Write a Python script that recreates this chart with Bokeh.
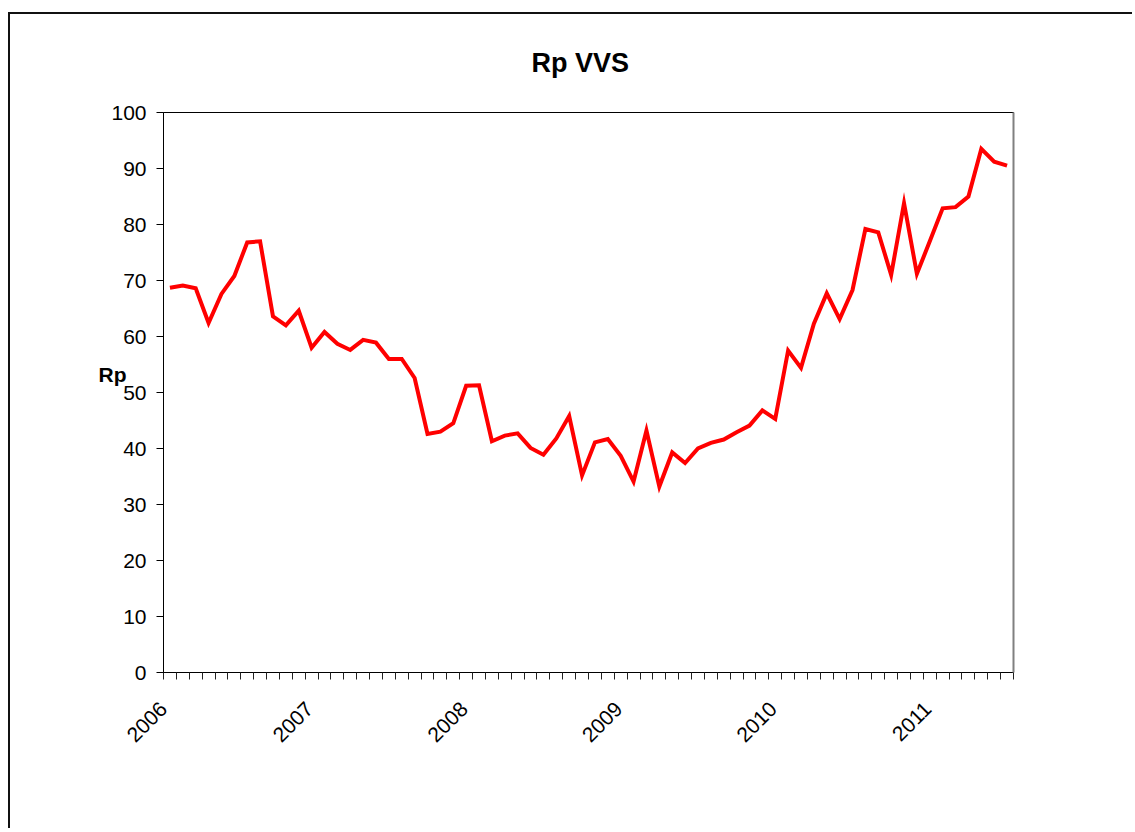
from bokeh.plotting import figure
from bokeh.models import Range1d, FixedTicker, LinearAxis, ColumnDataSource
from bokeh.embed import file_html
from bokeh.resources import INLINE

# ---- data ----
years = ["2006", "2007", "2008", "2009", "2010", "2011"]
year_start_index = [0, 12, 24, 36, 48, 60]
rp_values = [
    68.7, 69.1, 68.6, 62.4, 67.6, 70.8, 76.8, 77.0, 63.6, 62.0, 64.6, 58.0,
    60.8, 58.7, 57.6, 59.4, 58.9, 56.0, 56.0, 52.6, 42.6, 43.0, 44.5, 51.2,
    51.3, 41.3, 42.3, 42.7, 40.1, 38.9, 41.8, 45.8, 35.2, 41.1, 41.7, 38.7,
    34.1, 43.2, 33.2, 39.3, 37.4, 40.0, 41.0, 41.6, 42.9, 44.1, 46.8, 45.3,
    57.5, 54.4, 62.3, 67.7, 63.1, 68.3, 79.2, 78.6, 71.0, 83.8, 71.2, 77.0,
    82.9, 83.1, 85.0, 93.5, 91.2, 90.5,
]
y_ticks = [0, 10, 20, 30, 40, 50, 60, 70, 80, 90, 100]

n = len(rp_values)
month_index = list(range(n))
source = ColumnDataSource(data=dict(x=month_index, y=rp_values))

FONT = "Liberation Sans"
LABEL_SHIFT = 1.15  # rotated year labels end slightly left of the year's first month
x_start, x_end = -0.5, n - 0.5

p = figure(
    width=1124, height=816,
    x_range=Range1d(x_start, x_end), y_range=Range1d(0, 100),
    output_backend="svg", toolbar_location=None,
    min_border_left=153, min_border_right=121,
    min_border_top=98, min_border_bottom=158,
    title="Rp VVS",
)
p.margin = (12, 0, 0, 8)
p.styles = {"border-left": "2px solid #111", "border-top": "2px solid #111"}

p.outline_line_color = "black"
p.outline_line_width = 1
p.grid.visible = False
p.background_fill_color = "white"
p.border_fill_color = "white"

# title
p.title.align = "left"
p.title.offset = 368
p.title.vertical_align = "top"
p.title.text_font = FONT
p.title.text_font_size = "27px"
p.title.text_font_style = "bold"
p.title.text_color = "black"
if "standoff" in p.title.properties():
    p.title.standoff = 65

# x axis: line, month tick marks, rotated year labels
label_ticks = [max(i - LABEL_SHIFT, x_start) for i in year_start_index]
xa = p.xaxis[0]
xa.ticker = FixedTicker(ticks=label_ticks,
                        minor_ticks=[i - 0.5 for i in range(n + 1)])
xa.major_label_overrides = {t: y for t, y in zip(label_ticks, years)}
xa.major_label_orientation = 0.785398
xa.major_tick_out = 0
xa.major_tick_in = 0
xa.minor_tick_out = 7
xa.minor_tick_in = 0
xa.minor_tick_line_color = "#222"
xa.axis_line_color = "black"
xa.major_label_text_font = FONT
xa.major_label_text_font_size = "21px"
xa.major_label_text_color = "black"
xa.major_label_standoff = 26

# y axis
ya = p.yaxis[0]
ya.ticker = FixedTicker(ticks=y_ticks)
ya.major_tick_out = 7
ya.major_tick_in = 0
ya.minor_tick_out = 0
ya.minor_tick_in = 0
ya.axis_line_color = "black"
ya.major_tick_line_color = "black"
ya.major_label_text_font = FONT
ya.major_label_text_font_size = "21px"
ya.major_label_text_color = "black"
ya.major_label_standoff = 10

# y axis title "Rp" (horizontal; the empty second line lifts it a little above centre)
rp_ax = LinearAxis(ticker=FixedTicker(ticks=[]),
                   axis_line_color=None,
                   major_tick_out=0, major_tick_in=0, minor_tick_out=0, minor_tick_in=0,
                   axis_label="Rp\n", axis_label_orientation="horizontal",
                   axis_label_text_font=FONT, axis_label_text_font_size="21px",
                   axis_label_text_font_style="bold", axis_label_text_color="black",
                   axis_label_text_line_height=1.6,
                   axis_label_standoff=-18)
p.add_layout(rp_ax, "left")

# frame right border (gray)
right_ax = LinearAxis(ticker=FixedTicker(ticks=[]), axis_line_color="#808080",
                      axis_line_width=2,
                      major_tick_out=0, major_tick_in=0, minor_tick_out=0, minor_tick_in=0)
p.add_layout(right_ax, "right")

p.line("x", "y", source=source, line_color="#FF0000", line_width=4,
       line_join="miter")

open("out.html", "w").write(file_html(p, INLINE))
